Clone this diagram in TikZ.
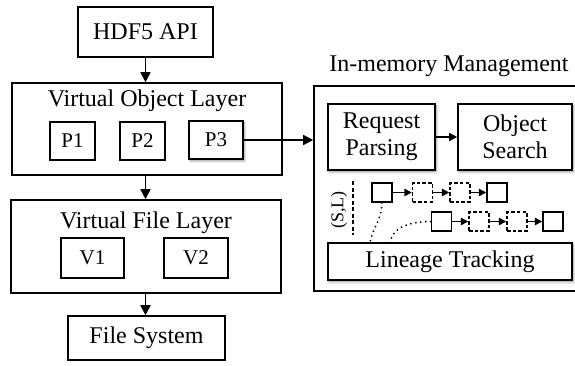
\documentclass[tikz,border=0pt]{standalone}
\usepackage{fontspec}
\setmainfont{Liberation Serif}
\usetikzlibrary{arrows.meta,shadows.blur}
\begin{document}
\begin{tikzpicture}[x=1pt,y=-1pt,
  box/.style={draw, line width=1.6pt, inner sep=0pt, align=center,
    font=\fontsize{24}{27}\selectfont},
  small/.style={box, font=\fontsize{21}{24}\selectfont},
  wh/.style 2 args={minimum width=#1pt, minimum height=#2pt},
  shade/.style={blur shadow={shadow xshift=1.2pt, shadow yshift=-1.8pt,
    shadow blur radius=2.5pt, shadow opacity=45}},
  title/.style={inner sep=0pt, font=\fontsize{24}{27}\selectfont},
  arr/.style={line width=1.6pt, -{Triangle[length=10pt,width=10pt]}},
  sq/.style={draw, line width=1.5pt, inner sep=0pt, minimum width=20pt, minimum height=19pt},
  dsq/.style={sq, dash pattern=on 3.5pt off 2.2pt},
  carr/.style={line width=1.5pt, -{Triangle[length=7.5pt,width=7.5pt]}},
  dots/.style={line width=2pt, line cap=round, dash pattern=on 0pt off 5pt}
]
\useasboundingbox (0,0) rectangle (575,365);
\clip (0,0) rectangle (575,365);

% left stack
\node[box, wh={135}{50}] (api) at (145.5,32) {HDF5 API};
\node[box, wh={270}{92}] (vol) at (147,129) {};
\node[title] (volt) at (147,101) {Virtual Object Layer};
\node[small, wh={45}{38}] (p1) at (72.5,141) {P1};
\node[small, wh={45}{38}] (p2) at (142.5,141) {P2};
\node[small, wh={54}{38}, shade, fill=white] (p3) at (216,140) {P3};

\node[box, wh={270}{93}] (vfl) at (146,246.5) {};
\node[title] (vflt) at (146,223) {Virtual File Layer};
\node[small, wh={63}{40}] (v1) at (92.5,258) {V1};
\node[small, wh={64}{40}] (v2) at (196,258) {V2};

\node[box, wh={157}{44}] (fs) at (146.5,338) {File System};

\draw[arr] (api.south) -- (vol.north -| api.south);
\draw[arr] (vol.south -| api.south) -- (vfl.north -| api.south);
\draw[arr] (vfl.south -| api.south) -- (fs.north -| api.south);

% in-memory management
\node[title] (immt) at (449,66) {In-memory Management};
\node[draw, line width=1.6pt, inner sep=0pt, wh={268}{205}] (imm) at (448,188.5) {};

\draw[arr] (p3.east) -- (p3.east -| imm.west);

\node[box, wh={107}{66}, shade, fill=white] (rp) at (381.5,137) {Request\\Parsing};
\node[box, wh={114}{66}, shade, fill=white] (os) at (515,137) {Object\\Search};
\draw[line width=1.5pt, -{Triangle[length=8pt,width=8pt]}] (rp.east) -- (os.west);

\node[box, wh={244}{37}, shade, fill=white] (lt) at (450,261.5) {Lineage Tracking};

% version chains
\node[sq]  (a1) at (382,192.5) {};
\node[dsq] (a2) at (422.5,192.5) {};
\node[dsq] (a3) at (460,192.5) {};
\node[sq]  (a4) at (497,192.5) {};
\node[sq]  (b1) at (441.5,221.5) {};
\node[dsq] (b2) at (479,221.5) {};
\node[dsq] (b3) at (517,221.5) {};
\node[sq]  (b4) at (553,221.5) {};
\draw[carr] (a1) -- (a2);
\draw[carr] (a2) -- (a3);
\draw[carr] (a3) -- (a4);
\draw[carr] (b1) -- (b2);
\draw[carr] (b2) -- (b3);
\draw[carr] (b3) -- (b4);

% (S,L) marker
\coordinate (s1) at (353,181);
\coordinate (s2) at (353,235);
\draw[line width=1.5pt, dash pattern=on 4pt off 2.5pt] (s1) -- (s2);
\node[inner sep=0pt, rotate=90, font=\fontsize{18}{20}\selectfont] (sl) at (339,210) {(S,L)};

% lineage links
\coordinate (d1) at (370,243);
\coordinate (d2) at (390,243);
\draw[dots] (a1.south) .. controls (382,220) and (372,228) .. (d1);
\draw[dots] (b1.west) .. controls (403,222) and (392,230) .. (d2);
\end{tikzpicture}
\end{document}
